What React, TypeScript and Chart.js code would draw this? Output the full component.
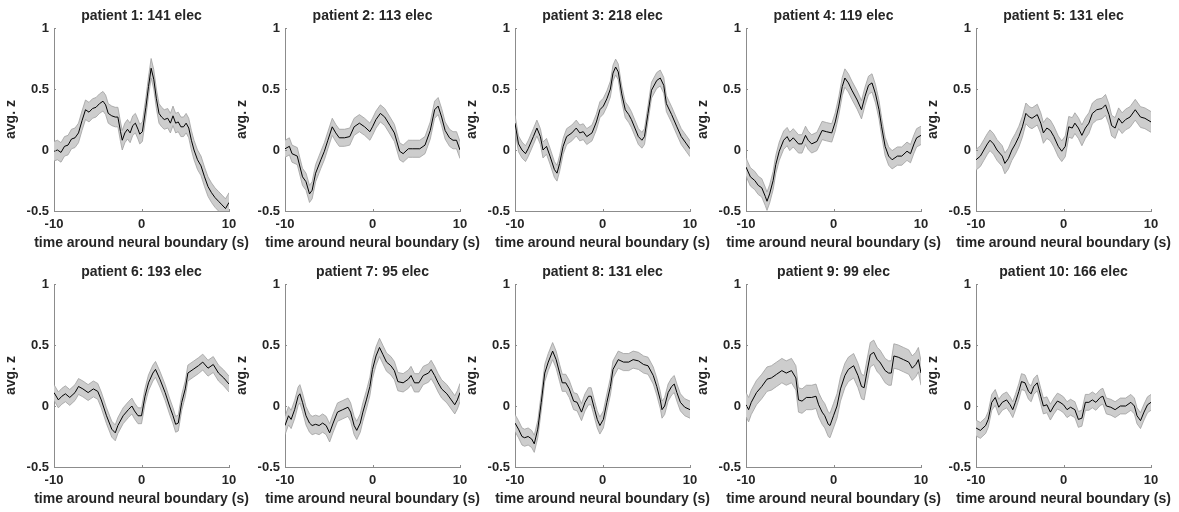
import React, { useEffect, useRef } from 'react';
import { Chart, registerables } from 'chart.js';

Chart.register(...registerables);
Chart.defaults.font.family = '"Liberation Sans", Arial, Helvetica, sans-serif';

// ---------- data ----------
const PATIENTS = [1, 2, 3, 4, 5, 6, 7, 8, 9, 10];
const ELECS = [141, 113, 218, 119, 131, 193, 95, 131, 99, 166];
const SEM = [0.08, 0.07, 0.065, 0.075, 0.085, 0.065, 0.075, 0.07, 0.1, 0.065];
const X_TICKS = [-10, 0, 10];
const Y_TICKS = [-0.5, 0, 0.5, 1];
const X_LABEL = 'time around neural boundary (s)';
const Y_LABEL = 'avg. z';

// [time (s), avg. z]
const P1 = [[-10,-0.01],[-9.6,0.00],[-9.2,-0.02],[-8.8,0.03],[-8.4,0.04],[-8.0,0.09],[-7.6,0.10],[-7.2,0.14],[-6.8,0.24],[-6.4,0.33],[-6.0,0.31],[-5.6,0.34],[-5.2,0.35],[-4.8,0.38],[-4.4,0.40],[-4.1,0.37],[-3.8,0.30],[-3.4,0.28],[-3.0,0.27],[-2.7,0.27],[-2.4,0.15],[-2.2,0.08],[-1.9,0.14],[-1.6,0.17],[-1.3,0.14],[-1.0,0.20],[-0.7,0.22],[-0.4,0.17],[-0.2,0.13],[0.1,0.15],[0.5,0.35],[0.8,0.52],[1.1,0.67],[1.4,0.58],[1.7,0.42],[2.0,0.30],[2.3,0.27],[2.6,0.25],[3.0,0.26],[3.3,0.22],[3.6,0.28],[3.9,0.22],[4.2,0.23],[4.5,0.19],[4.8,0.19],[5.1,0.22],[5.4,0.18],[5.7,0.08],[6.0,0.00],[6.4,-0.08],[6.8,-0.13],[7.2,-0.22],[7.6,-0.30],[8.0,-0.35],[8.4,-0.39],[8.8,-0.42],[9.2,-0.45],[9.6,-0.48],[10,-0.43]];
const P2 = [[-10,0.01],[-9.5,0.03],[-9.2,-0.03],[-8.6,-0.05],[-8.0,-0.22],[-7.6,-0.26],[-7.2,-0.36],[-6.9,-0.33],[-6.5,-0.19],[-5.9,-0.08],[-5.5,-0.01],[-5.1,0.08],[-4.6,0.19],[-4.2,0.14],[-3.8,0.10],[-3.2,0.10],[-2.6,0.11],[-2.1,0.19],[-1.5,0.22],[-0.9,0.19],[-0.3,0.15],[0,0.19],[0.4,0.25],[0.9,0.30],[1.4,0.27],[2.0,0.20],[2.5,0.14],[3.1,-0.01],[3.5,-0.03],[4.1,0.01],[4.6,0.01],[5.4,0.01],[6.0,0.04],[6.6,0.16],[7.1,0.33],[7.5,0.36],[7.9,0.27],[8.3,0.16],[8.8,0.10],[9.2,0.08],[9.6,0.08],[10,0.0]];
const P3 = [[-10,0.22],[-9.6,0.05],[-9.2,0.0],[-8.8,-0.03],[-8.5,0.01],[-7.9,0.11],[-7.5,0.18],[-7.1,0.11],[-6.8,0.0],[-6.4,0.03],[-6.0,-0.05],[-5.5,-0.16],[-5.2,-0.19],[-4.9,-0.11],[-4.5,0.03],[-4.1,0.11],[-3.5,0.14],[-3.0,0.18],[-2.6,0.14],[-2.2,0.15],[-1.8,0.11],[-1.2,0.14],[-0.7,0.23],[-0.3,0.33],[0.1,0.36],[0.5,0.42],[0.9,0.50],[1.2,0.63],[1.5,0.68],[1.8,0.64],[2.2,0.46],[2.6,0.33],[3.0,0.29],[3.3,0.25],[3.7,0.18],[4.1,0.11],[4.5,0.08],[4.8,0.11],[5.2,0.30],[5.6,0.49],[6.2,0.57],[6.6,0.59],[7.0,0.53],[7.3,0.38],[7.9,0.29],[8.5,0.19],[9.0,0.11],[9.6,0.05],[10,0.01]];
const P4 = [[-10,-0.14],[-9.5,-0.22],[-9.0,-0.25],[-8.6,-0.29],[-8.2,-0.31],[-7.8,-0.38],[-7.6,-0.42],[-7.3,-0.36],[-6.9,-0.25],[-6.6,-0.12],[-6.2,-0.01],[-5.7,0.08],[-5.3,0.11],[-5.0,0.07],[-4.6,0.10],[-4.0,0.05],[-3.6,0.05],[-3.2,0.12],[-2.9,0.08],[-2.5,0.05],[-1.9,0.07],[-1.3,0.16],[-0.8,0.15],[-0.2,0.14],[0.2,0.23],[0.6,0.36],[1.0,0.52],[1.3,0.59],[1.7,0.55],[2.1,0.49],[2.7,0.41],[3.2,0.33],[3.6,0.44],[4.0,0.53],[4.4,0.55],[4.8,0.46],[5.2,0.33],[5.5,0.19],[5.9,0.03],[6.3,-0.05],[6.7,-0.08],[7.3,-0.05],[7.8,-0.05],[8.4,-0.01],[8.8,-0.03],[9.2,0.05],[9.5,0.10],[10,0.12]];
const P5 = [[-10,-0.08],[-9.5,-0.05],[-9.1,0.0],[-8.7,0.05],[-8.4,0.08],[-8.0,0.05],[-7.6,0.0],[-7.0,-0.05],[-6.7,-0.11],[-6.3,-0.07],[-5.9,0.0],[-5.5,0.05],[-5.1,0.11],[-4.7,0.19],[-4.3,0.30],[-3.9,0.27],[-3.6,0.26],[-3.0,0.29],[-2.6,0.22],[-2.3,0.14],[-1.9,0.18],[-1.5,0.16],[-1.1,0.11],[-0.6,0.03],[-0.2,-0.01],[0.2,0.03],[0.6,0.19],[1.0,0.18],[1.3,0.22],[1.7,0.18],[2.1,0.12],[2.5,0.18],[2.9,0.22],[3.3,0.30],[3.8,0.33],[4.4,0.34],[4.8,0.37],[5.2,0.29],[5.5,0.20],[5.9,0.18],[6.3,0.26],[6.7,0.22],[7.1,0.25],[7.6,0.27],[8.2,0.33],[8.8,0.27],[9.3,0.26],[10,0.23]];
const P6 = [[-10,0.11],[-9.5,0.05],[-9.1,0.08],[-8.7,0.10],[-8.2,0.07],[-7.6,0.11],[-7.2,0.16],[-6.7,0.14],[-6.1,0.11],[-5.5,0.14],[-5.0,0.12],[-4.6,0.05],[-4.0,-0.08],[-3.4,-0.19],[-3.0,-0.22],[-2.7,-0.16],[-2.1,-0.08],[-1.5,-0.03],[-1.1,0.0],[-0.8,-0.04],[-0.4,-0.08],[0,-0.08],[0.4,0.08],[0.8,0.19],[1.3,0.27],[1.6,0.30],[2.1,0.22],[2.7,0.11],[3.2,0.0],[3.6,-0.08],[3.9,-0.15],[4.2,-0.14],[4.6,0.03],[5.0,0.14],[5.3,0.27],[5.9,0.30],[6.5,0.33],[7.0,0.36],[7.6,0.31],[8.2,0.34],[8.8,0.27],[9.4,0.23],[10,0.18]];
const P7 = [[-10,-0.16],[-9.6,-0.08],[-9.3,-0.11],[-8.9,-0.03],[-8.5,0.08],[-8.3,0.10],[-8.0,0.03],[-7.6,-0.08],[-7.2,-0.14],[-6.9,-0.16],[-6.5,-0.15],[-6.1,-0.16],[-5.7,-0.14],[-5.3,-0.16],[-4.9,-0.22],[-4.5,-0.14],[-4.0,-0.05],[-3.4,-0.03],[-2.8,-0.01],[-2.5,-0.05],[-2.1,-0.16],[-1.8,-0.20],[-1.4,-0.14],[-1.1,-0.05],[-0.7,0.05],[-0.3,0.16],[0,0.30],[0.4,0.41],[0.8,0.48],[1.2,0.42],[1.6,0.36],[2.1,0.33],[2.5,0.29],[2.9,0.20],[3.5,0.19],[4.1,0.22],[4.4,0.25],[4.8,0.19],[5.3,0.19],[5.8,0.25],[6.4,0.27],[6.7,0.30],[7.1,0.25],[7.5,0.19],[7.9,0.14],[8.5,0.10],[9.0,0.05],[9.4,0.01],[9.7,0.05],[10,0.11]];
const P8 = [[-10,-0.14],[-9.6,-0.19],[-9.2,-0.25],[-8.9,-0.26],[-8.5,-0.25],[-8.1,-0.27],[-7.8,-0.31],[-7.4,-0.19],[-7.0,0.03],[-6.6,0.27],[-6.2,0.36],[-5.7,0.45],[-5.3,0.38],[-4.9,0.27],[-4.6,0.19],[-4.2,0.19],[-3.8,0.14],[-3.3,0.04],[-2.9,0.03],[-2.4,-0.05],[-2.0,0.03],[-1.6,0.08],[-1.3,0.08],[-0.9,-0.03],[-0.6,-0.11],[-0.3,-0.16],[0.1,-0.11],[0.5,0.03],[0.9,0.16],[1.2,0.30],[1.8,0.38],[2.4,0.36],[3.0,0.36],[3.5,0.38],[4.1,0.37],[4.7,0.34],[5.2,0.33],[5.8,0.25],[6.2,0.16],[6.6,0.05],[6.8,-0.03],[7.1,0.0],[7.5,0.11],[7.9,0.16],[8.2,0.18],[8.5,0.11],[8.9,0.03],[9.4,-0.01],[10,-0.03]];
const P9 = [[-10,0.01],[-9.7,-0.03],[-9.4,0.03],[-8.8,0.11],[-8.2,0.16],[-7.6,0.22],[-7.1,0.23],[-6.5,0.26],[-5.9,0.29],[-5.4,0.27],[-4.8,0.29],[-4.3,0.23],[-4.0,0.05],[-3.6,0.04],[-3.1,0.07],[-2.5,0.07],[-2.0,0.08],[-1.7,0.01],[-1.3,-0.05],[-1.0,-0.08],[-0.6,-0.15],[-0.4,-0.16],[0,-0.08],[0.4,0.0],[0.8,0.14],[1.3,0.25],[1.7,0.30],[2.3,0.33],[2.8,0.25],[3.2,0.16],[3.5,0.15],[3.8,0.27],[4.2,0.42],[4.6,0.44],[5.0,0.38],[5.3,0.36],[5.9,0.29],[6.3,0.27],[6.6,0.27],[6.9,0.41],[7.4,0.40],[8.0,0.38],[8.6,0.36],[9.0,0.31],[9.4,0.34],[9.7,0.38],[10,0.27]];
const P10 = [[-10,-0.18],[-9.5,-0.20],[-8.9,-0.16],[-8.6,-0.11],[-8.2,0.03],[-7.8,0.07],[-7.4,-0.01],[-7.0,0.03],[-6.5,0.05],[-6.1,0.01],[-5.8,-0.03],[-5.5,0.03],[-5.1,0.12],[-4.8,0.20],[-4.4,0.19],[-4.0,0.12],[-3.7,0.10],[-3.4,0.16],[-3.0,0.19],[-2.6,0.08],[-2.3,0.0],[-1.9,0.01],[-1.5,-0.05],[-1.1,0.0],[-0.7,0.04],[-0.4,0.03],[0,0.01],[0.4,-0.03],[0.8,-0.01],[1.3,-0.03],[1.7,-0.11],[2.1,-0.10],[2.5,0.03],[2.9,0.03],[3.3,0.05],[3.7,0.03],[4.2,0.07],[4.5,0.08],[4.9,0.0],[5.4,-0.01],[5.9,-0.03],[6.5,0.0],[7.1,0.0],[7.7,0.03],[8.1,0.0],[8.4,-0.08],[8.8,-0.12],[9.2,-0.05],[9.6,0.01],[10,0.03]];

const SERIES = [P1, P2, P3, P4, P5, P6, P7, P8, P9, P10];

// ---------- layout ----------
const CANVAS_W = 283;
const CANVAS_H = 256;
const Y_AXIS_W = 54;
const X_AXIS_H = 45;
const PLOT_W = 175;
const COL_LEFT = [0, 231, 461, 692, 922];
const ROW_TOP = [0, 256];
const TEXT = '#262626';
const AXIS = '#8c8c8c';

const decor = {
  id: 'decor',
  afterDraw(chart: any) {
    const { ctx, chartArea, scales } = chart;
    ctx.save();
    ctx.strokeStyle = AXIS;
    ctx.lineWidth = 1;
    X_TICKS.forEach((v) => {
      const px = Math.round(scales.x.getPixelForValue(v)) + 0.5;
      ctx.beginPath();
      ctx.moveTo(px, chartArea.bottom);
      ctx.lineTo(px, chartArea.bottom - 2);
      ctx.stroke();
    });
    Y_TICKS.forEach((v) => {
      const py = Math.round(scales.y.getPixelForValue(v)) + 0.5;
      ctx.beginPath();
      ctx.moveTo(chartArea.left, py);
      ctx.lineTo(chartArea.left + 2, py);
      ctx.stroke();
    });
    ctx.fillStyle = TEXT;
    ctx.font = 'bold 14px "Liberation Sans", Arial, Helvetica, sans-serif';
    ctx.textAlign = 'center';
    ctx.textBaseline = 'middle';
    ctx.fillText(X_LABEL, (chartArea.left + chartArea.right) / 2, chartArea.bottom + 32);
    ctx.restore();
  },
};

function Panel({ idx }: { idx: number }) {
  const ref = useRef<HTMLCanvasElement | null>(null);
  useEffect(() => {
    const pts = SERIES[idx];
    const sem = SEM[idx];
    const mean = pts.map(([x, y]) => ({ x, y }));
    const upper = pts.map(([x, y]) => ({ x, y: y + sem }));
    const lower = pts.map(([x, y]) => ({ x, y: y - sem }));
    const chart = new Chart(ref.current as HTMLCanvasElement, {
      type: 'line',
      data: {
        datasets: [
          { data: mean, borderColor: '#000000', borderWidth: 1, pointRadius: 0, fill: false, tension: 0 },
          { data: upper, borderColor: '#a0a0a0', borderWidth: 0.8, backgroundColor: '#cdcdcd', pointRadius: 0, fill: '+1', tension: 0 },
          { data: lower, borderColor: '#a0a0a0', borderWidth: 0.8, pointRadius: 0, fill: false, tension: 0 },
        ],
      },
      options: {
        animation: false,
        responsive: false,
        events: [],
        layout: { padding: { left: 0, right: CANVAS_W - Y_AXIS_W - PLOT_W, top: 0, bottom: 0 } },
        plugins: {
          legend: { display: false },
          tooltip: { enabled: false },
          filler: { drawTime: 'beforeDatasetsDraw' },
          title: {
            display: true,
            fullSize: false,
            text: `patient ${PATIENTS[idx]}: ${ELECS[idx]} elec`,
            color: TEXT,
            font: { size: 14, weight: 'bold', lineHeight: 1.2 },
            padding: { top: 8, bottom: 3.2 },
          },
        },
        scales: {
          x: {
            type: 'linear',
            min: -10,
            max: 10,
            afterBuildTicks: (s: any) => { s.ticks = X_TICKS.map((v) => ({ value: v })); },
            afterFit: (s: any) => { s.height = X_AXIS_H; },
            grid: { display: true, drawOnChartArea: false, drawTicks: false },
            border: { display: true, color: AXIS, width: 1 },
            ticks: { color: TEXT, font: { size: 13, weight: 'bold' }, padding: 6, maxRotation: 0, autoSkip: false, callback: (v: any) => `${v}` },
          },
          y: {
            type: 'linear',
            min: -0.5,
            max: 1,
            afterBuildTicks: (s: any) => { s.ticks = Y_TICKS.map((v) => ({ value: v })); },
            afterFit: (s: any) => { s.width = Y_AXIS_W; },
            grid: { display: true, drawOnChartArea: false, drawTicks: false },
            border: { display: true, color: AXIS, width: 1 },
            ticks: { color: TEXT, font: { size: 13, weight: 'bold' }, padding: 5, autoSkip: false, callback: (v: any) => `${v}` },
            title: {
              display: true,
              text: Y_LABEL,
              color: TEXT,
              font: { size: 14, weight: 'bold', lineHeight: 1 },
              padding: { top: 4, bottom: 0 },
            },
          },
        },
      } as any,
      plugins: [decor],
    });
    return () => chart.destroy();
  }, [idx]);
  const col = idx % 5;
  const row = Math.floor(idx / 5);
  return (
    <canvas
      ref={ref}
      width={CANVAS_W}
      height={CANVAS_H}
      style={{ position: 'absolute', left: COL_LEFT[col], top: ROW_TOP[row], width: CANVAS_W, height: CANVAS_H }}
    />
  );
}

export default function App() {
  return (
    <div style={{ position: 'fixed', left: 0, top: 0, width: 1179, height: 512, background: '#ffffff', overflow: 'hidden' }}>
      {PATIENTS.map((p, i) => (
        <Panel key={p} idx={i} />
      ))}
    </div>
  );
}
